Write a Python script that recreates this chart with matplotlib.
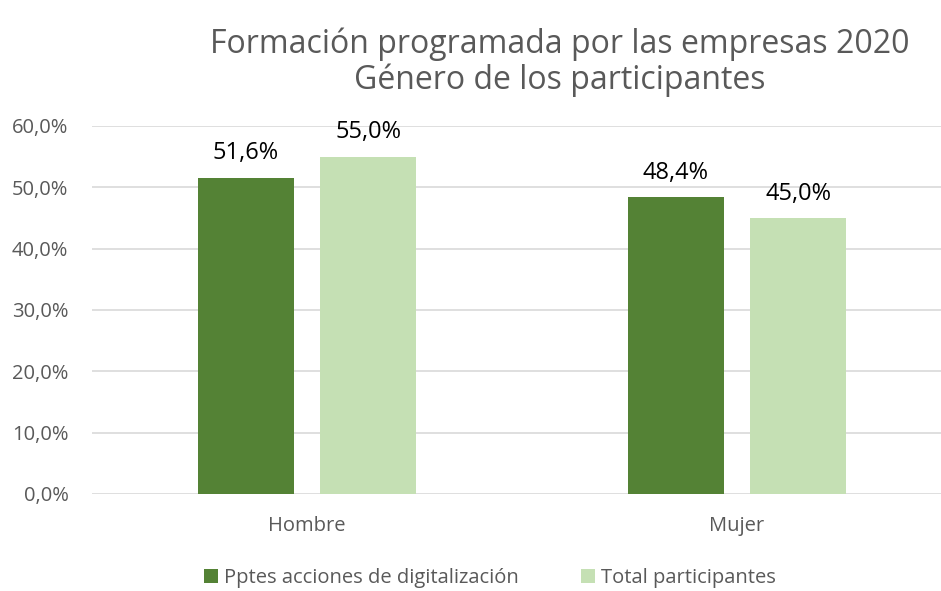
import matplotlib.pyplot as plt
import numpy as np
from matplotlib.ticker import FuncFormatter

categorias = ["Hombre", "Mujer"]
series = ["Pptes acciones de digitalización", "Total participantes"]
pptes = [0.516, 0.484]
total = [0.550, 0.450]
colores = ["#548235", "#C5E0B4"]

plt.rcParams['font.family'] = ['Open Sans', 'DejaVu Sans']

fig = plt.figure(figsize=(9.41, 5.91), dpi=100)
ax = fig.add_axes([92 / 941, 1 - 494 / 591, 860 / 941, 368 / 591])

x = np.arange(len(categorias))
ancho = 0.223
desp = 0.142
for vals, off, col, nombre in [(pptes, -desp, colores[0], series[0]),
                               (total, desp, colores[1], series[1])]:
    barras = ax.bar(x + off, vals, ancho, color=col, label=nombre, zorder=3)
    for b, v in zip(barras, vals):
        ax.text(b.get_x() + b.get_width() / 2, v + 0.02,
                f"{v * 100:.1f}%".replace(".", ","),
                ha="center", va="bottom", fontsize=17, color="black")

ax.set_xlim(-0.5, 1.5)
ax.set_ylim(0, 0.6)
ax.set_yticks(np.arange(0, 0.61, 0.1))
ax.yaxis.set_major_formatter(FuncFormatter(lambda v, p: f"{v * 100:.1f}%".replace(".", ",")))
ax.set_xticks(x)
ax.set_xticklabels(categorias)
ax.tick_params(axis="both", length=0, labelsize=14.5, colors="#595959")
ax.tick_params(axis="x", pad=16)
ax.tick_params(axis="y", pad=17)
ax.grid(axis="y", color="#D9D9D9", linewidth=1.2, zorder=0)
for s in ax.spines.values():
    s.set_visible(False)

fig.text(560 / 941, 1 - 62 / 591, "Formación programada por las empresas 2020\nGénero de los participantes",
         ha="center", va="center", fontsize=23, color="#595959", linespacing=1.1)

leg = fig.legend(loc="center", bbox_to_anchor=(490 / 941, 1 - 578 / 591), ncol=2, frameon=False,
                 fontsize=14.5, handlelength=0.7, handleheight=0.7, handletextpad=0.3,
                 columnspacing=3.1)
for t in leg.get_texts():
    t.set_color("#595959")

fig.savefig("out.png", dpi=100)
